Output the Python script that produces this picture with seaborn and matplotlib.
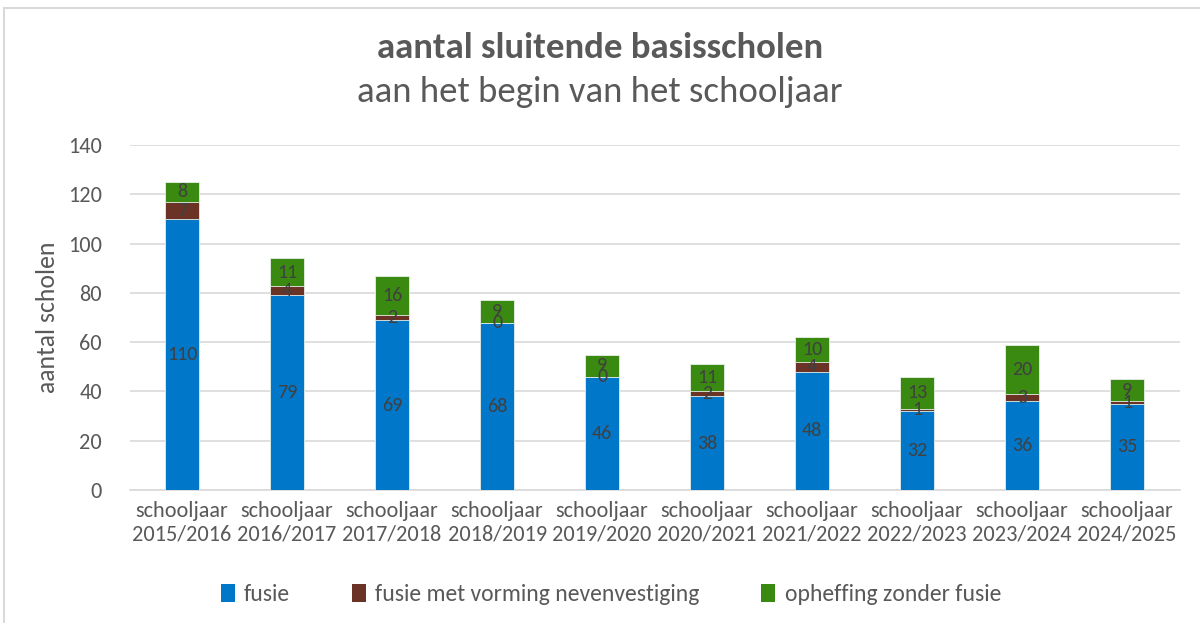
import matplotlib
matplotlib.use("Agg")
import matplotlib.pyplot as plt
import seaborn as sns
import numpy as np
import pandas as pd
from matplotlib.patches import Rectangle, Patch

categories = ["schooljaar\n2015/2016", "schooljaar\n2016/2017", "schooljaar\n2017/2018",
              "schooljaar\n2018/2019", "schooljaar\n2019/2020", "schooljaar\n2020/2021",
              "schooljaar\n2021/2022", "schooljaar\n2022/2023", "schooljaar\n2023/2024",
              "schooljaar\n2024/2025"]
fusie = [110, 79, 69, 68, 46, 38, 48, 32, 36, 35]
fusie_nev = [7, 4, 2, 0, 0, 2, 4, 1, 3, 1]
opheffing = [8, 11, 16, 9, 9, 11, 10, 13, 20, 9]
series_names = ["fusie", "fusie met vorming nevenvestiging", "opheffing zonder fusie"]
colors = ["#0077C8", "#6B3226", "#3A8A12"]

sns.set_theme(style="white")
plt.rcParams['font.family'] = ['Carlito', 'DejaVu Sans']
txt = "#595959"

fig = plt.figure(figsize=(12, 6.23), dpi=100)
ax = fig.add_axes([0.108, 0.2135, 0.875, 0.5535])

df = pd.DataFrame({"cat": categories,
                   "s1": np.array(fusie),
                   "s2": np.array(fusie) + np.array(fusie_nev),
                   "s3": np.array(fusie) + np.array(fusie_nev) + np.array(opheffing)})

for col, c in zip(["s3", "s2", "s1"], colors[::-1]):
    sns.barplot(data=df, x="cat", y=col, color=c, width=0.33, ax=ax,
                edgecolor="#e8f0e8", linewidth=0.6, saturation=1, zorder=3)

# data labels
vals = [fusie, fusie_nev, opheffing]
for i in range(len(categories)):
    base = 0
    for v in vals:
        val = v[i]
        ax.text(i, base + val / 2, str(val), ha="center", va="center",
                fontsize=14.5, color="#404040", zorder=5)
        base += val

ax.set_ylim(0, 140)
ax.set_yticks(range(0, 141, 20))
ax.set_xlim(-0.5, len(categories) - 0.5)
ax.yaxis.grid(True, color="#d9d9d9", linewidth=1.2, zorder=0)
ax.set_axisbelow(True)
for s in ["top", "right", "left"]:
    ax.spines[s].set_visible(False)
ax.spines["bottom"].set_color("#d9d9d9")
ax.spines["bottom"].set_linewidth(1.2)
ax.tick_params(axis="both", length=0, colors=txt, labelsize=16)
ax.tick_params(axis="y", pad=20)
ax.tick_params(axis="x", labelsize=16, pad=8)
ax.set_xlabel("")
ax.set_ylabel("aantal scholen", color=txt, fontsize=18.5, labelpad=6)

fig.text(0.5, 0.923, "aantal sluitende basisscholen", ha="center", va="center",
         fontsize=26.5, fontweight="bold", color=txt)
fig.text(0.5, 0.852, "aan het begin van het schooljaar", ha="center", va="center",
         fontsize=26.5, color=txt)

handles = [Patch(facecolor=c, edgecolor="none") for c in colors]
fig.legend(handles, series_names, loc="center", bbox_to_anchor=(0.509, 0.046), ncol=3,
           frameon=False, fontsize=17, labelcolor=txt, handlelength=0.6, handleheight=0.8,
           handletextpad=0.4, columnspacing=2.6)

fig.patches.append(Rectangle((0.003, -0.01), 1.0, 0.997, transform=fig.transFigure,
                             fill=False, edgecolor="#d9d9d9", linewidth=1.5))

fig.savefig("out.png", dpi=100)
